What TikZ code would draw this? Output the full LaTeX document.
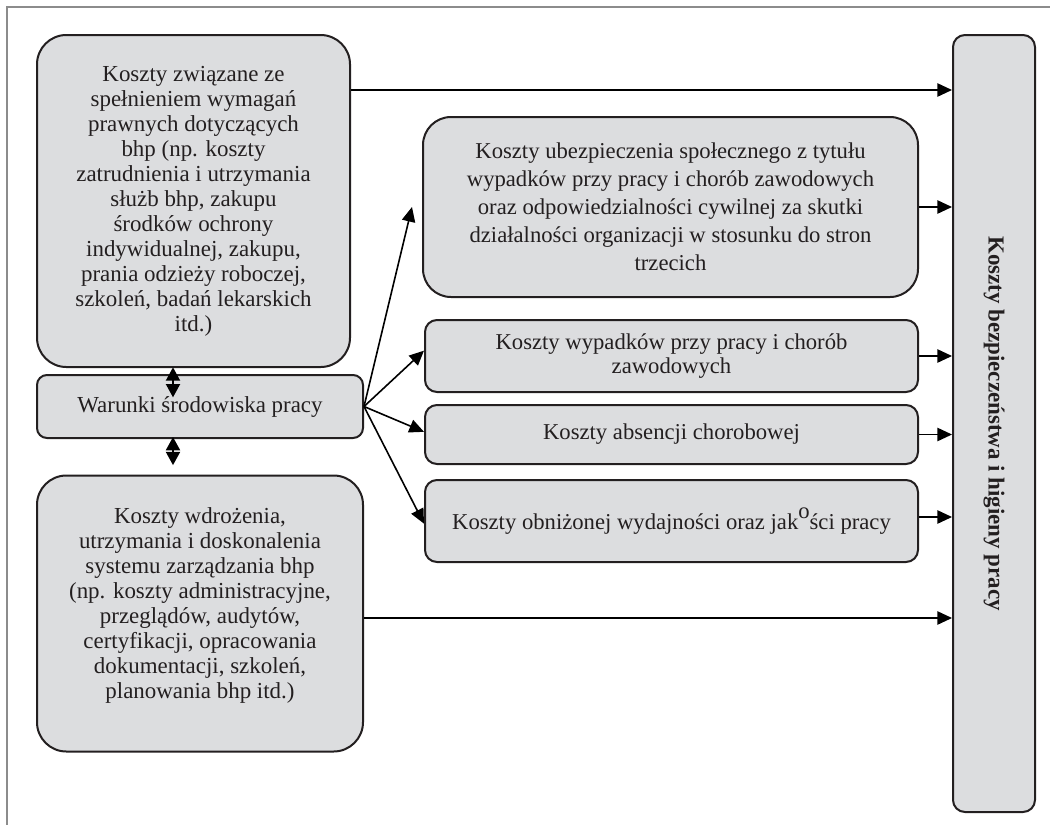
\documentclass[tikz,border=0pt]{standalone}
\usepackage{fontspec}
\setmainfont{Liberation Serif}
\usetikzlibrary{arrows.meta}

\tikzset{every picture/.style={line width=0.75pt}}
\tikzset{
  costbox/.style={draw={rgb, 255:red, 35; green, 31; blue, 32 }, fill={rgb, 255:red, 220; green, 221; blue, 223 }, line width=1.5pt, align=center, inner sep=0pt, text={rgb, 255:red, 35; green, 31; blue, 32 }},
  leftfont/.style={font=\fontsize{17.2}{18.75}\selectfont},
  rightfont/.style={font=\fontsize{17}{21}\selectfont},
  arr/.style={line width=1.2pt, -{Triangle[length=11pt,width=10pt]}},
  dblarr/.style={line width=1.5pt, {Triangle[length=10pt,width=10.5pt]}-{Triangle[length=10pt,width=10.5pt]}},
}

\begin{document}
\begin{tikzpicture}[x=0.75pt,y=0.75pt,yscale=-1,xscale=1]
	\useasboundingbox (0,0) rectangle (1050,825);

	%Frame lines
	\draw [color={rgb, 255:red, 140; green, 140; blue, 140 }, line width=1pt] (7,825) -- (7,7) -- (1050,7) ;

	%Rounded Rect: legal requirements
	\node [costbox, leftfont, minimum width=234.75pt, minimum height=249pt, rounded corners=22pt] (legal) at (193.5,201) {Koszty związane ze\\spełnieniem wymagań\\prawnych dotyczących\\bhp (np. koszty\\zatrudnienia i utrzymania\\służb bhp, zakupu\\środków ochrony\\indywidualnej, zakupu,\\prania odzieży roboczej,\\szkoleń, badań lekarskich\\itd.)};
	%Rounded Rect: working conditions
	\node [costbox, leftfont, minimum width=244.5pt, minimum height=47.25pt, rounded corners=7.5pt] (cond) at (200,406.5) {Warunki środowiska pracy};
	%Rounded Rect: management system
	\node [costbox, leftfont, minimum width=244.5pt, minimum height=207pt, rounded corners=22pt] (system) at (200,613.5) {Koszty wdrożenia,\\utrzymania i doskonalenia\\systemu zarządzania bhp\\(np. koszty administracyjne,\\przeglądów, audytów,\\certyfikacji, opracowania\\dokumentacji, szkoleń,\\planowania bhp itd.)\\[-3pt]};

	%Rounded Rect: insurance
	\node [costbox, rightfont, minimum width=371.25pt, minimum height=135pt, rounded corners=21pt] (insur) at (670.5,207) {Koszty ubezpieczenia społecznego z tytułu\\wypadków przy pracy i chorób zawodowych\\oraz odpowiedzialności cywilnej za skutki\\działalności organizacji w stosunku do stron\\trzecich};
	%Rounded Rect: accidents
	\node [costbox, rightfont, font=\fontsize{17}{18}\selectfont, minimum width=369.75pt, minimum height=54pt, rounded corners=9pt] (accid) at (671.5,356) {Koszty wypadków przy pracy i chorób\\zawodowych};
	%Rounded Rect: absence
	\node [costbox, rightfont, minimum width=369.75pt, minimum height=44.25pt, rounded corners=9pt] (absence) at (671.5,434.5) {Koszty absencji chorobowej};
	%Rounded Rect: productivity
	\node [costbox, rightfont, minimum width=369.75pt, minimum height=61.5pt, rounded corners=9pt] (output) at (671.5,521) {Koszty obniżonej wydajności oraz jak\raisebox{0.45em}{o}ści pracy};

	%Rounded Rect: total costs
	\node [costbox, minimum width=61.5pt, minimum height=582.75pt, rounded corners=9pt] (total) at (994,423.5) {};
	\node [rotate=-90, font=\fontsize{17.2}{20}\selectfont\bfseries, text={rgb, 255:red, 35; green, 31; blue, 32 }] (totaltxt) at (total.center) {Koszty bezpieczeństwa i higieny pracy};

	%Straight Lines: to total
	\coordinate (row1) at (0,90);
	\coordinate (row2) at (0,618);
	\draw [arr] (legal.east |- row1) -- (total.west |- row1) ;
	\draw [arr] (system.east |- row2) -- (total.west |- row2) ;
	\draw [arr] (insur.east) -- (insur.east -| total.west) ;
	\draw [arr] (accid.east) -- (accid.east -| total.west) ;
	\draw [arr] (absence.east) -- (absence.east -| total.west) ;
	\draw [arr] ([yshift=-3pt]output.east) -- ([yshift=-3pt]output.east -| total.west) ;

	%Straight Lines: fan from working conditions
	\draw [arr] (cond.east) -- ([xshift=-7.5pt]insur.west) ;
	\draw [arr] (cond.east) -- ([yshift=-4pt]accid.west) ;
	\draw [arr] (cond.east) -- ([yshift=-2pt]absence.west) ;
	\draw [arr] (cond.east) -- ([yshift=2pt]output.west) ;

	%Straight Lines: double arrows
	\coordinate (col) at (173,0);
	\draw [dblarr] ([yshift=22pt]col |- legal.south) -- ([yshift=-5pt]col |- cond.north) ;
	\draw [dblarr] ([yshift=-1.5pt]col |- cond.south) -- ([yshift=-7pt]col |- system.north) ;

\end{tikzpicture}
\end{document}
